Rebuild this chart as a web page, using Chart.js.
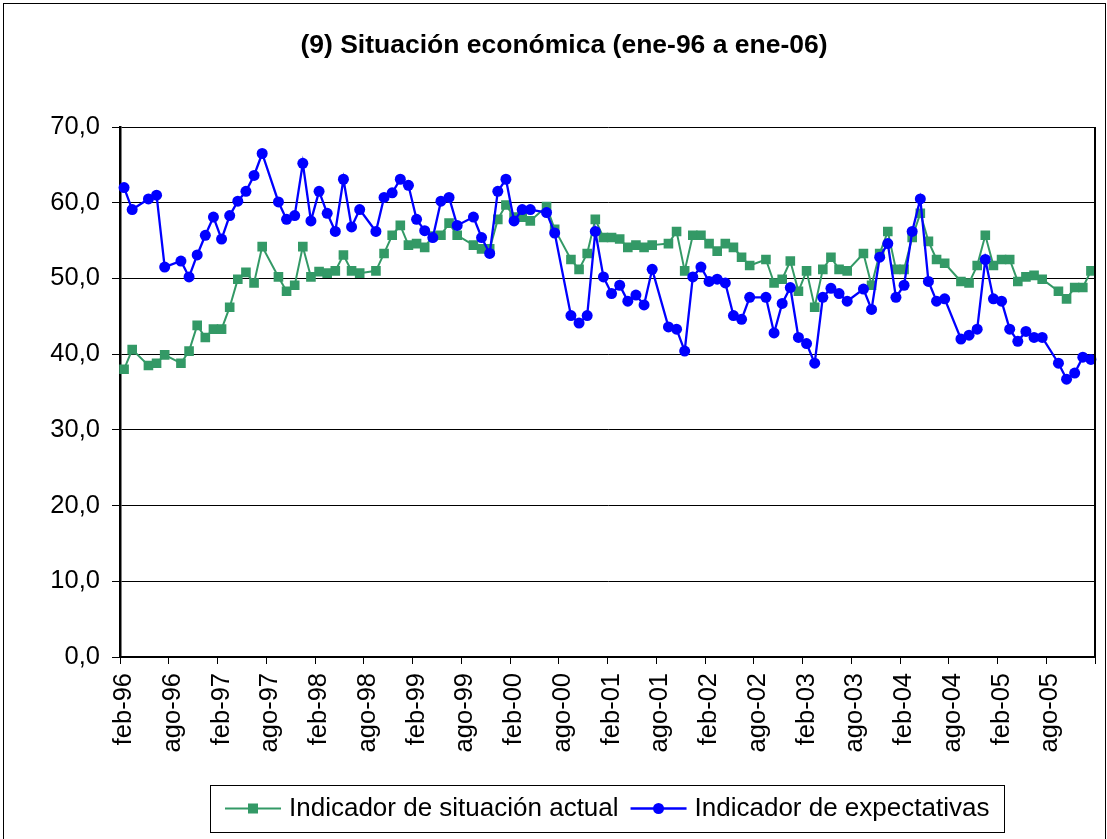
<!DOCTYPE html>
<html>
<head>
<meta charset="utf-8">
<script src="https://cdn.jsdelivr.net/npm/chart.js@4/dist/chart.umd.min.js"></script>
<style>
  html, body { margin: 0; padding: 0; background: #fff; }
</style>
</head>
<body>
<canvas id="myChart" width="1107" height="839"></canvas>
<script>
const FONT = "'Liberation Sans', Arial, sans-serif";

// categories: feb-96 .. ene-06 (one per month)
const meses = ["ene", "feb", "mar", "abr", "may", "jun", "jul", "ago", "sep", "oct", "nov", "dic"];
const labels = [];
for (let k = 1; k <= 120; k++) {
  const yy = (96 + Math.floor(k / 12)) % 100;
  labels.push(meses[k % 12] + "-" + String(yy).padStart(2, "0"));
}

// Indicador de situación actual (null = no survey that month)
const actual = [
  38.0, 40.6, null, 38.5, 38.8, 39.9, null, 38.8, 40.4, 43.8, 42.2, 43.3,
  43.3, 46.2, 49.9, 50.8, 49.4, 54.2, null, 50.2, 48.3, 49.1, 54.2, 50.2,
  50.9, 50.7, 51.0, 53.1, 51.0, 50.7, null, 51.0, 53.3, 55.7, 57.0, 54.4,
  54.6, 54.1, 55.6, 55.7, 57.3, 55.7, null, 54.4, 53.9, 53.9, 57.8, 59.7,
  58.1, 58.1, 57.6, null, 59.5, 56.5, null, 52.5, 51.2, 53.3, 57.8, 55.4,
  55.4, 55.2, 54.1, 54.4, 54.1, 54.4, null, 54.6, 56.2, 51.0, 55.7, 55.7,
  54.6, 53.6, 54.6, 54.1, 52.8, 51.7, null, 52.5, 49.4, 49.9, 52.3, 48.3,
  51.0, 46.2, 51.2, 52.8, 51.2, 51.0, null, 53.3, 49.1, 53.3, 56.2, 51.2,
  51.2, 55.4, 58.6, 54.9, 52.5, 52.0, null, 49.6, 49.4, 51.7, 55.7, 51.7,
  52.5, 52.5, 49.6, 50.2, 50.4, 49.9, null, 48.3, 47.3, 48.8, 48.8, 51.0
];

// Indicador de expectativas
const expectativas = [
  62.0, 59.1, null, 60.5, 61.0, 51.5, null, 52.3, 50.2, 53.1, 55.7, 58.1,
  55.2, 58.3, 60.2, 61.5, 63.6, 66.5, null, 60.1, 57.8, 58.3, 65.2, 57.6,
  61.5, 58.6, 56.2, 63.1, 56.8, 59.1, null, 56.2, 60.7, 61.3, 63.1, 62.3,
  57.8, 56.3, 55.4, 60.2, 60.7, 57.0, null, 58.1, 55.4, 53.3, 61.5, 63.1,
  57.6, 59.1, 59.1, null, 58.7, 56.0, null, 45.1, 44.1, 45.1, 56.2, 50.2,
  48.0, 49.1, 47.0, 47.8, 46.5, 51.2, null, 43.6, 43.3, 40.4, 50.2, 51.5,
  49.6, 49.9, 49.4, 45.1, 44.6, 47.5, null, 47.5, 42.8, 46.7, 48.8, 42.2,
  41.4, 38.8, 47.5, 48.7, 48.0, 47.0, null, 48.6, 45.9, 52.8, 54.6, 47.5,
  49.1, 56.2, 60.5, 49.6, 47.0, 47.3, null, 42.0, 42.5, 43.3, 52.5, 47.3,
  47.0, 43.3, 41.7, 43.0, 42.2, 42.2, null, 38.8, 36.7, 37.5, 39.6, 39.3
];

const yTicks = [0, 10, 20, 30, 40, 50, 60, 70];

const GREEN = "#339966";
const BLUE = "#0000FF";

// frame, plot border and legend box drawn by hand
const decor = {
  id: "decor",
  afterDraw(chart) {
    const c = chart.ctx;
    const a = chart.chartArea;
    c.save();
    // outer chart frame
    c.strokeStyle = "#000";
    c.lineWidth = 1;
    c.strokeRect(3.5, 3.5, chart.width - 5, chart.height + 5);
    // right side of plot area
    c.lineWidth = 2;
    c.beginPath();
    c.moveTo(a.right, a.top);
    c.lineTo(a.right, a.bottom);
    c.stroke();

    // legend
    c.font = "26px " + FONT;
    c.textBaseline = "middle";
    const ds = chart.data.datasets;
    const lineW = 56, gapT = 8, gapI = 12, margin = 15;
    const widths = ds.map(d => c.measureText(d.label).width);
    let total = margin * 2 + gapI * (ds.length - 1);
    widths.forEach(w => total += lineW + gapT + w);
    const cx = (a.left + a.right) / 2;
    const boxTop = 785, boxH = 47, midY = boxTop + boxH / 2;
    let x = Math.round(cx - total / 2);
    c.lineWidth = 1;
    c.strokeStyle = "#000";
    c.strokeRect(x + 0.5, boxTop + 0.5, Math.round(total), boxH);
    x += margin;
    ds.forEach((d, i) => {
      c.strokeStyle = d.borderColor;
      c.fillStyle = d.borderColor;
      c.lineWidth = d.borderWidth;
      c.beginPath();
      c.moveTo(x, midY);
      c.lineTo(x + lineW, midY);
      c.stroke();
      const mx = x + lineW / 2;
      if (d.pointStyle === "rect") {
        c.fillRect(mx - 5, midY - 5, 10, 10);
      } else {
        c.beginPath();
        c.arc(mx, midY, 5.5, 0, Math.PI * 2);
        c.fill();
      }
      x += lineW + gapT;
      c.fillStyle = "#000";
      c.textAlign = "left";
      c.fillText(d.label, x, midY);
      x += widths[i] + gapI;
    });
    c.restore();
  }
};

const ctx = document.getElementById("myChart");

const myChart = new Chart(ctx, {
  type: "line",
  data: {
    labels: labels,
    datasets: [
      {
        label: "Indicador de situación actual",
        data: actual,
        borderColor: GREEN,
        backgroundColor: GREEN,
        borderWidth: 2,
        pointStyle: "rect",
        pointRadius: 6.8,
        pointBorderWidth: 0,
        pointBackgroundColor: GREEN,
        spanGaps: true,
        tension: 0,
        order: 1
      },
      {
        label: "Indicador de expectativas",
        data: expectativas,
        borderColor: BLUE,
        backgroundColor: BLUE,
        borderWidth: 2.3,
        pointStyle: "circle",
        pointRadius: 5.5,
        pointBorderWidth: 0,
        pointBackgroundColor: BLUE,
        spanGaps: true,
        tension: 0,
        order: 0
      }
    ]
  },
  options: {
    responsive: false,
    animation: false,
    devicePixelRatio: 1,
    layout: { padding: { left: 33, right: 12, top: 0, bottom: 86 } },
    plugins: {
      legend: { display: false },
      tooltip: { enabled: false },
      title: {
        display: true,
        text: "(9) Situación económica (ene-96 a ene-06)",
        color: "#000",
        font: { family: FONT, size: 26.5, weight: "bold" },
        padding: { top: 30, bottom: 65.2 }
      }
    },
    scales: {
      x: {
        type: "category",
        offset: true,
        grid: {
          offset: true,
          drawOnChartArea: false,
          drawTicks: true,
          tickLength: 7,
          lineWidth: 1,
          color: (c) => (c.index === undefined || c.index % 6 === 0) ? "#000" : "rgba(0,0,0,0)"
        },
        border: { display: true, color: "#000", width: 2 },
        ticks: {
          autoSkip: false,
          minRotation: 90,
          maxRotation: 90,
          padding: 9,
          color: "#000",
          font: { family: FONT, size: 25.5 },
          callback: function (v, i) { return i % 6 === 0 ? labels[i] : ""; }
        },
        afterFit: (s) => { s.height = 96; s.paddingLeft = 0; s.paddingRight = 0; }
      },
      y: {
        min: yTicks[0],
        max: yTicks[yTicks.length - 1],
        afterBuildTicks: (s) => { s.ticks = yTicks.map(v => ({ value: v })); },
        grid: { color: "#000", lineWidth: 1, tickLength: 8 },
        border: { display: true, color: "#000", width: 2.5 },
        ticks: {
          padding: 12,
          color: "#000",
          font: { family: FONT, size: 25.5 },
          callback: (v) => v.toFixed(1).replace(".", ",")
        },
        afterFit: (s) => { s.width = 87; }
      }
    }
  },
  plugins: [decor]
});
</script>
</body>
</html>
